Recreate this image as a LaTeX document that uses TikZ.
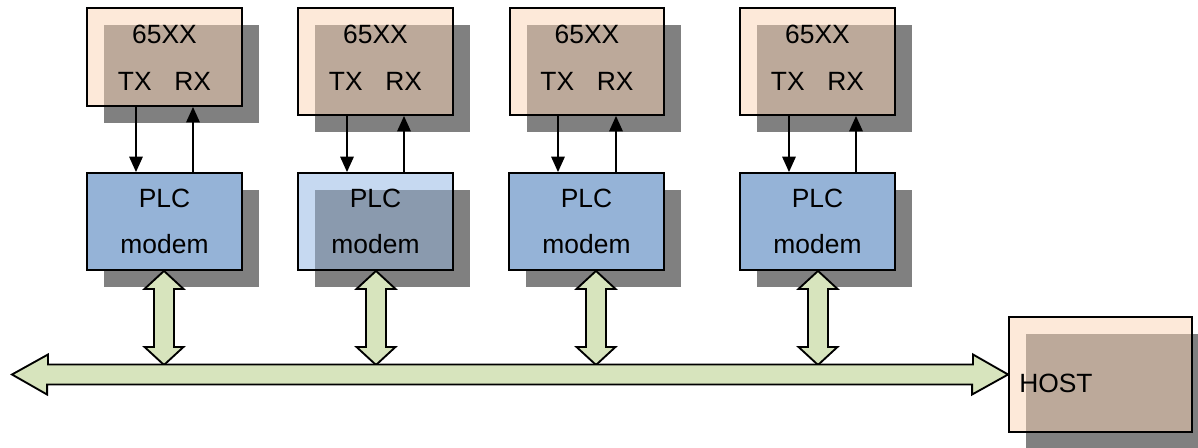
\documentclass[tikz,border=0pt]{standalone}
\usepackage{fontspec}
\setmainfont{Liberation Sans}
\usetikzlibrary{arrows.meta,shadows}
\definecolor{peach}{HTML}{FDE9D9}
\definecolor{peachov}{HTML}{BCA99A}
\definecolor{plcblue}{HTML}{95B3D7}
\definecolor{plclight}{HTML}{C6D9F1}
\definecolor{plcov}{HTML}{8A9AAE}
\definecolor{shgray}{HTML}{808080}
\definecolor{busgreen}{HTML}{D7E4BD}
\tikzset{
 box/.style={draw=black, line width=1.4pt, inner sep=0pt, minimum width=155*0.75pt,
   drop shadow={shadow xshift=12.4pt, shadow yshift=-12.4pt, fill=shgray, opacity=1}},
 tint/.style={path picture={\fill[#1] ([shift={(12.4pt,-12.4pt)}]path picture bounding box.north west) rectangle (path picture bounding box.south east);}},
 mcu/.style={box, fill=peach, tint=peachov, minimum height=107*0.75pt},
 plc/.style={box, fill=plcblue, minimum height=97*0.75pt},
 lbl/.style={font=\fontsize{19.8}{22}\selectfont, inner sep=0pt, anchor=base},
 sig/.style={line width=1.3pt, -{Triangle[length=11.5pt,width=10pt]}},
 fat/.style={draw=black, line width=1.4pt, fill=busgreen, line join=miter},
}
\begin{document}
\begin{tikzpicture}[x=0.75pt,y=-0.75pt]
\path[use as bounding box, clip] (0,0) rectangle (1198,447);
% 65XX boxes
\node[mcu, minimum height=98*0.75pt] (c1) at (164.5,57) {};
\node[mcu] (c2) at (375.5,61.5) {};
\node[mcu, minimum width=154*0.75pt] (c3) at (587,61.5) {};
\node[mcu] (c4) at (817.5,61.5) {};
% PLC boxes
\node[plc] (p1) at (164.5,221.5) {};
\node[plc, fill=plclight, tint=plcov] (p2) at (375.5,221.5) {};
\node[plc] (p3) at (586.5,221.5) {};
\node[plc] (p4) at (817.5,221.5) {};
% HOST
\node[box, fill=peach, tint=peachov, minimum width=183*0.75pt, minimum height=115*0.75pt] (host) at (1100.5,374.5) {};
% labels
\foreach \i/\x in {1/164.5,2/375.5,3/587,4/817.5}{
  \node[lbl] (n\i) at (\x,43) {65XX};
  \node[lbl] (r\i) at (\x,90) {TX\hspace{17pt}RX};
}
\foreach \i/\x in {1/164.5,2/375.5,3/586.5,4/817.5}{
  \node[lbl] (pl\i) at (\x,207) {PLC};
  \node[lbl] (md\i) at (\x,253) {modem};
}
\node[lbl, anchor=base west] (hl) at (1019,392) {HOST};
% TX / RX signals
\coordinate (tx1) at (136,0); \coordinate (rx1) at (193,0);
\coordinate (tx2) at (347,0); \coordinate (rx2) at (404,0);
\coordinate (tx3) at (558,0); \coordinate (rx3) at (616,0);
\coordinate (tx4) at (789,0); \coordinate (rx4) at (856,0);
\foreach \i in {1,2,3,4}{
  \draw[sig] (c\i.south -| tx\i) -- (p\i.north -| tx\i);
  \draw[sig] (p\i.north -| rx\i) -- (c\i.south -| rx\i);
}
% vertical double arrows
\coordinate (v1) at (164,0);
\coordinate (v2) at (376,0);
\coordinate (v3) at (596,0);
\coordinate (v4) at (818,0);
\foreach \i in {1,2,3,4}{
  \draw[fat] (p\i.south -| v\i) -- ++(19.5,18) -- ++(-9.5,0) -- ++(0,58) -- ++(9.5,0)
    -- ++(-19.5,18) -- ++(-19.5,-18) -- ++(9.5,0) -- ++(0,-58) -- ++(-9.5,0) -- cycle;
}
% bus
\coordinate (bw) at (12,374.5);
\draw[fat] (bw) -- ++(36,-20) -- ++(0,10) -- ++(925,0) -- ++(0,-10) -- (host.west)
  -- ++(-36,20) -- ++(0,-10) -- ++(-925,0) -- ++(0,10) -- cycle;
\end{tikzpicture}
\end{document}
